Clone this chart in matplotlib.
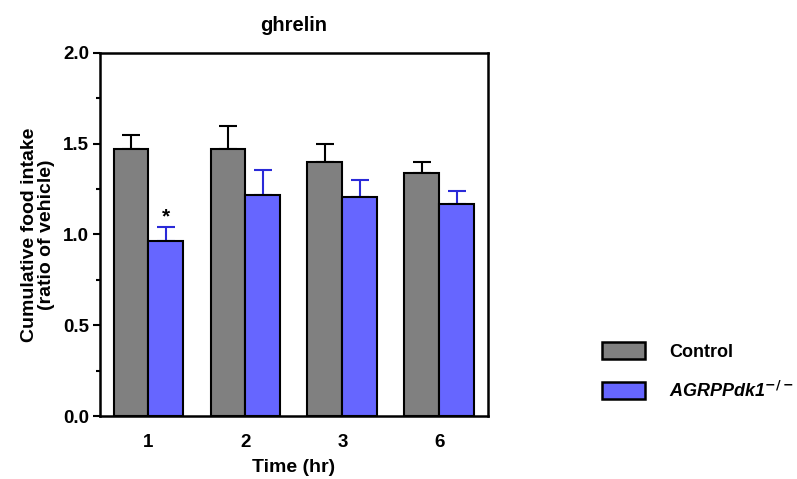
import numpy as np
import matplotlib
matplotlib.use("Agg")
import matplotlib.pyplot as plt
from matplotlib.patches import Patch
from matplotlib.ticker import MultipleLocator

plt.rcParams['font.family'] = ['Liberation Sans', 'DejaVu Sans']
plt.rcParams['font.weight'] = 'bold'

times = ["1", "2", "3", "6"]
control = [1.47, 1.47, 1.40, 1.34]
control_err = [0.08, 0.13, 0.10, 0.06]
agrp = [0.965, 1.22, 1.205, 1.17]
agrp_err = [0.075, 0.135, 0.095, 0.07]

gray = "#808080"
blue = "#6666ff"

fig = plt.figure(figsize=(7.97, 4.79), dpi=100)
ax = fig.add_axes([0.1255, 0.1315, 0.4865, 0.758])

x = np.arange(len(times))
w = 0.36
ax.bar(x - w/2, control, w, color=gray, edgecolor="black", linewidth=1.5, zorder=2)
ax.bar(x + w/2, agrp, w, color=blue, edgecolor="black", linewidth=1.5, zorder=2)

# upper error bars only
ax.errorbar(x - w/2, control, yerr=[np.zeros(4), control_err], fmt="none",
            ecolor="black", elinewidth=1.5, capsize=6.5, capthick=1.5, zorder=1)
ax.errorbar(x + w/2, agrp, yerr=[np.zeros(4), agrp_err], fmt="none",
            ecolor="#2a2ad8", elinewidth=1.5, capsize=6.5, capthick=1.5, zorder=1)

ax.text(x[0] + w/2, agrp[0] + agrp_err[0] + 0.055, "*", ha="center", va="center",
        fontsize=15, fontweight="bold")

ax.set_xlim(-0.5, 3.5)
ax.set_ylim(0, 2.0)
ax.set_xticks(x)
ax.set_xticklabels(times)
ax.yaxis.set_major_locator(MultipleLocator(0.5))
ax.yaxis.set_minor_locator(MultipleLocator(0.25))
ax.yaxis.set_major_formatter(matplotlib.ticker.FormatStrFormatter("%.1f"))
ax.tick_params(axis="both", labelsize=13.5, width=1.5, length=5)
ax.tick_params(axis="y", which="minor", width=1.5, length=3)
ax.tick_params(axis="y", pad=3)
ax.tick_params(axis="x", length=0, pad=13)
for s in ax.spines.values():
    s.set_linewidth(1.8)

ax.set_title("ghrelin", fontsize=14.5, fontweight="bold", pad=16)
ax.set_xlabel("Time (hr)", fontsize=14, fontweight="bold", labelpad=6)
ax.set_ylabel("Cumulative food intake\n(ratio of vehicle)", fontsize=14,
              fontweight="bold", labelpad=6, linespacing=1.0)

handles = [Patch(facecolor=gray, edgecolor="black", linewidth=1.8, label="Control"),
           Patch(facecolor=blue, edgecolor="black", linewidth=1.8, label="AGRPPdk1$^{-/-}$")]
leg = fig.legend(handles=handles, loc="center left", bbox_to_anchor=(0.735, 0.225),
                 frameon=False, fontsize=13, handlelength=2.4, handleheight=1.1,
                 handletextpad=1.3, labelspacing=1.1)
leg.get_texts()[1].set_fontstyle("italic")

fig.savefig("out.png", dpi=100)
